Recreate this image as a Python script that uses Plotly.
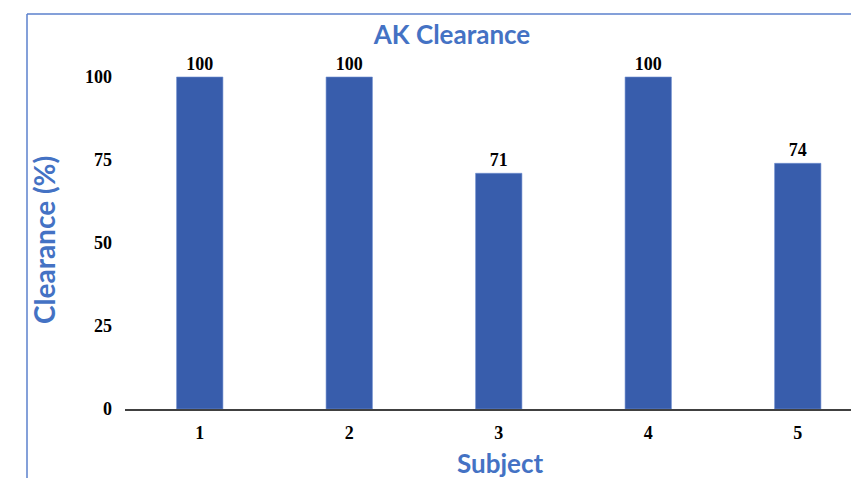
import plotly.graph_objects as go

subjects = ["1", "2", "3", "4", "5"]
clearance = [100, 100, 71, 100, 74]
y_ticks = [0, 25, 50, 75, 100]

BLUE = "#4472C4"
BAR = "#385DAC"

W, H = 851, 478
left, right, top, bottom = 125, 0, 60, 69
plot_w = W - left - right
plot_h = H - top - bottom
px_per_unit = 332 / 100
cat_px = 149.5

num_font = dict(family="Liberation Serif", size=18, color="#000000", weight="bold")

fig = go.Figure(
    go.Bar(
        x=subjects,
        y=clearance,
        width=0.31,
        marker=dict(color=BAR, line=dict(color="#6F8FD0", width=0.6)),
        text=[str(v) for v in clearance],
        textposition="outside",
        cliponaxis=False,
        textfont=num_font,
    )
)

fig.update_layout(
    width=W,
    height=H,
    margin=dict(l=left, r=right, t=top, b=bottom),
    paper_bgcolor="white",
    plot_bgcolor="white",
    showlegend=False,
    title=dict(
        text="<b>AK Clearance</b>",
        x=452 / W,
        xanchor="center",
        y=1 - 35 / H,
        yanchor="middle",
        yref="container",
        font=dict(family="Lato", size=26, color=BLUE),
    ),
    xaxis=dict(
        type="category",
        range=[-0.5, -0.5 + plot_w / cat_px],
        showline=True,
        linecolor="#404040",
        linewidth=2,
        ticks="",
        showgrid=False,
        ticklabelstandoff=6,
        tickfont=num_font,
    ),
    yaxis=dict(
        range=[0, plot_h / px_per_unit],
        tickvals=y_ticks,
        showline=False,
        showgrid=False,
        zeroline=False,
        ticks="",
        ticklabelstandoff=12,
        tickfont=num_font,
    ),
)

# axis titles, centred on the full category span
fig.add_annotation(
    text="<b>Subject</b>", xref="paper", yref="paper",
    x=(500 - left) / plot_w, y=(H - bottom - 463) / plot_h,
    xanchor="center", yanchor="middle", showarrow=False,
    font=dict(family="Lato", size=26, color=BLUE),
)
fig.add_annotation(
    text="<b>Clearance (%)</b>", xref="paper", yref="paper",
    x=(44 - left) / plot_w, y=(H - bottom - 240) / plot_h,
    xanchor="center", yanchor="middle", showarrow=False, textangle=-90,
    font=dict(family="Lato", size=28, color=BLUE),
)

# chart frame (top and left edges)
fx0 = (27 - left) / plot_w
fy0 = (H - bottom - 14) / plot_h
fig.add_shape(type="line", xref="paper", yref="paper", x0=fx0, x1=1.02,
              y0=fy0, y1=fy0, line=dict(color="#5B80CC", width=1.5))
fig.add_shape(type="line", xref="paper", yref="paper", x0=fx0, x1=fx0,
              y0=fy0, y1=-0.3, line=dict(color="#5B80CC", width=1.5))

fig.write_html("out.html")
